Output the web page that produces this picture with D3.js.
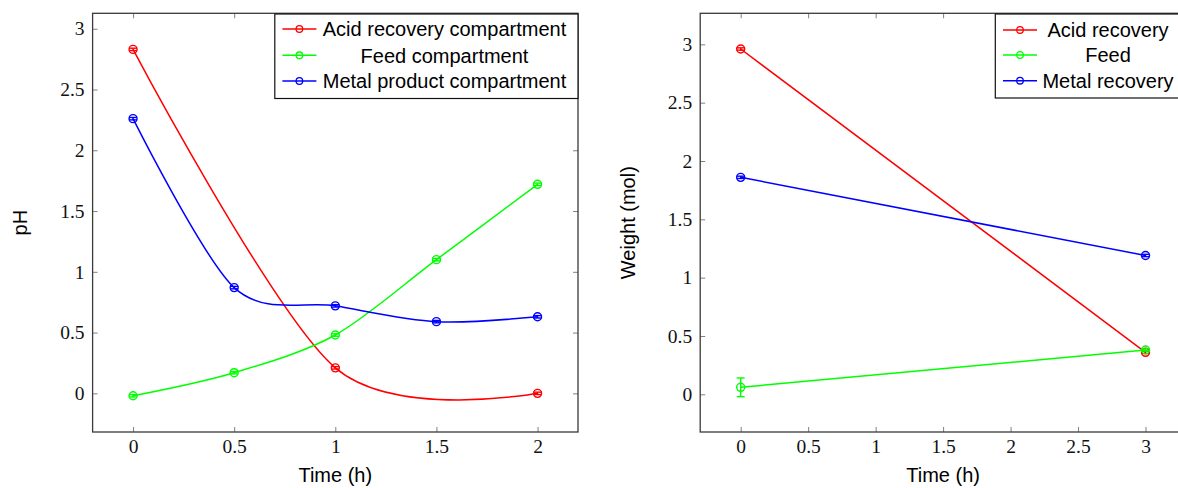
<!DOCTYPE html>
<html>
<head>
<meta charset="utf-8">
<script src="https://cdn.jsdelivr.net/npm/d3@7"></script>
<style>
  body { margin: 0; background: #fff; }
  svg { display: block; }
</style>
</head>
<body>
<svg id="chart" width="1178" height="488"></svg>
<script>
// ---- pH of each compartment during the run ----
const phTime = [0, 0.5, 1, 1.5, 2];
const phAcidTime = [0, 1, 2];
const phAcid = [2.83, 0.21, 0.0];
const phAcidErr = [0.01, 0.01, 0.01];
const phFeed = [-0.02, 0.17, 0.48, 1.10, 1.72];
const phFeedErr = [0.01, 0.01, 0.01, 0.01, 0.01];
const phMetal = [2.26, 0.87, 0.72, 0.59, 0.63];
const phMetalErr = [0.01, 0.01, 0.01, 0.01, 0.01];
const phNames = ["Acid recovery compartment", "Feed compartment", "Metal product compartment"];
const phXTicks = [0, 0.5, 1, 1.5, 2];
const phXTickLabels = ["0", "0.5", "1", "1.5", "2"];
const phYTicks = [0, 0.5, 1, 1.5, 2, 2.5, 3];
const phYTickLabels = ["0", "0.5", "1", "1.5", "2", "2.5", "3"];

// ---- amount in each compartment, start vs end ----
const wTime = [0, 3];
const wAcid = [2.96, 0.36];
const wAcidErr = [0.01, 0.01];
const wFeed = [0.06, 0.38];
const wFeedErr = [0.08, 0.01];
const wMetal = [1.86, 1.19];
const wMetalErr = [0.01, 0.01];
const wNames = ["Acid recovery", "Feed", "Metal recovery"];
const wXTicks = [0, 0.5, 1, 1.5, 2, 2.5, 3];
const wXTickLabels = ["0", "0.5", "1", "1.5", "2", "2.5", "3"];
const wYTicks = [0, 0.5, 1, 1.5, 2, 2.5, 3];
const wYTickLabels = ["0", "0.5", "1", "1.5", "2", "2.5", "3"];

const seriesColors = ["#ff0000", "#00ff00", "#0000ff"];

const svg = d3.select("#chart");
const sansFont = "'Liberation Sans', Arial, sans-serif";
const serifFont = "'Liberation Serif', 'Times New Roman', serif";

function drawPanel(cfg) {
  const x = d3.scaleLinear().domain(cfg.xDomain).range([cfg.left, cfg.right]);
  const y = d3.scaleLinear().domain(cfg.yDomain).range([cfg.bottom, cfg.top]);
  const g = svg.append("g");
  const tickLen = 5;

  // bottom axis with labels, ticks pointing inward
  const bx = g.append("g").attr("transform", `translate(0,${cfg.bottom})`)
    .call(d3.axisBottom(x).tickValues(cfg.xTicks)
      .tickFormat((d, i) => cfg.xTickLabels[i]).tickSize(-tickLen).tickPadding(7));
  // top axis, ticks only
  const tx = g.append("g").attr("transform", `translate(0,${cfg.top})`)
    .call(d3.axisTop(x).tickValues(cfg.xTicks).tickFormat("").tickSize(-tickLen));
  // left axis with labels
  const ly = g.append("g").attr("transform", `translate(${cfg.left},0)`)
    .call(d3.axisLeft(y).tickValues(cfg.yTicks)
      .tickFormat((d, i) => cfg.yTickLabels[i]).tickSize(-tickLen).tickPadding(8));
  // right axis, ticks only
  const ry = g.append("g").attr("transform", `translate(${cfg.right},0)`)
    .call(d3.axisRight(y).tickValues(cfg.yTicks).tickFormat("").tickSize(-tickLen));

  [bx, tx, ly, ry].forEach(a => {
    a.select(".domain").remove();
    a.selectAll(".tick line").attr("stroke", "#808080").attr("stroke-width", 1);
    a.selectAll(".tick text").attr("font-family", serifFont).attr("font-size", 19.5).attr("fill", "#111");
  });

  // frame
  g.append("rect")
    .attr("x", cfg.left).attr("y", cfg.top)
    .attr("width", cfg.right - cfg.left).attr("height", cfg.bottom - cfg.top)
    .attr("fill", "none").attr("stroke", "#3a3a3a").attr("stroke-width", 1.3);

  // series
  cfg.series.forEach((s, si) => {
    const pts = s.xs.map((t, i) => ({ t, v: s.ys[i], e: s.errs[i] }));
    const line = d3.line().x(d => x(d.t)).y(d => y(d.v));
    if (cfg.smooth) line.curve(d3.curveCardinal.tension(0.1));
    g.append("path").datum(pts)
      .attr("d", line)
      .attr("fill", "none").attr("stroke", seriesColors[si]).attr("stroke-width", 1.5);

    const mk = g.append("g").attr("stroke", seriesColors[si]).attr("stroke-width", 1.4).attr("fill", "none");
    pts.forEach(d => {
      const cx = x(d.t), y1 = y(d.v - d.e), y2 = y(d.v + d.e);
      mk.append("line").attr("x1", cx).attr("x2", cx).attr("y1", y1).attr("y2", y2);
      mk.append("line").attr("x1", cx - 4).attr("x2", cx + 4).attr("y1", y1).attr("y2", y1);
      mk.append("line").attr("x1", cx - 4).attr("x2", cx + 4).attr("y1", y2).attr("y2", y2);
      mk.append("circle").attr("cx", cx).attr("cy", y(d.v)).attr("r", 4);
    });
  });

  // legend
  const lg = g.append("g");
  lg.append("rect")
    .attr("x", cfg.legend.x0).attr("y", cfg.top + 0.7)
    .attr("width", cfg.legend.x1 - cfg.legend.x0).attr("height", cfg.legend.h)
    .attr("fill", "#fff").attr("stroke", "#111").attr("stroke-width", 1.2);
  cfg.series.forEach((s, si) => {
    const cy = cfg.legend.rows[si];
    lg.append("line")
      .attr("x1", cfg.legend.lineX0).attr("x2", cfg.legend.lineX0 + 34)
      .attr("y1", cy).attr("y2", cy)
      .attr("stroke", seriesColors[si]).attr("stroke-width", 1.5);
    lg.append("circle")
      .attr("cx", cfg.legend.lineX0 + 17).attr("cy", cy).attr("r", 3.3)
      .attr("fill", "none").attr("stroke", seriesColors[si]).attr("stroke-width", 1.3);
    lg.append("text")
      .attr("x", cfg.legend.textX).attr("y", cy).attr("dy", "0.36em")
      .attr("text-anchor", "middle")
      .attr("font-family", sansFont).attr("font-size", 20).attr("fill", "#000")
      .text(s.name);
  });

  // axis titles
  g.append("text")
    .attr("x", x(cfg.xTitlePos)).attr("y", 482)
    .attr("text-anchor", "middle")
    .attr("font-family", sansFont).attr("font-size", 20).attr("fill", "#000")
    .text(cfg.xTitle);
  g.append("text")
    .attr("transform", `translate(${cfg.yTitleX},${(cfg.top + cfg.bottom) / 2}) rotate(-90)`)
    .attr("text-anchor", "middle")
    .attr("font-family", sansFont).attr("font-size", 20).attr("fill", "#000")
    .text(cfg.yTitle);
}

drawPanel({
  left: 92.6, right: 578, top: 13.3, bottom: 432,
  xDomain: [-0.2, 2.2], yDomain: [-0.318, 3.127],
  xTicks: phXTicks, xTickLabels: phXTickLabels,
  yTicks: phYTicks, yTickLabels: phYTickLabels,
  smooth: true,
  xTitle: "Time (h)", xTitlePos: 1,
  yTitle: "pH", yTitleX: 27,
  series: [
    { name: phNames[0], xs: phAcidTime, ys: phAcid, errs: phAcidErr },
    { name: phNames[1], xs: phTime, ys: phFeed, errs: phFeedErr },
    { name: phNames[2], xs: phTime, ys: phMetal, errs: phMetalErr }
  ],
  legend: { x0: 274.8, x1: 578, h: 84.5, rows: [29, 55.3, 81], lineX0: 282.4, textX: 444.5 }
});

drawPanel({
  left: 700.2, right: 1186, top: 13.3, bottom: 432,
  xDomain: [-0.3, 3.3], yDomain: [-0.323, 3.266],
  xTicks: wXTicks, xTickLabels: wXTickLabels,
  yTicks: wYTicks, yTickLabels: wYTickLabels,
  smooth: false,
  xTitle: "Time (h)", xTitlePos: 1.5,
  yTitle: "Weight (mol)", yTitleX: 635,
  series: [
    { name: wNames[0], xs: wTime, ys: wAcid, errs: wAcidErr },
    { name: wNames[1], xs: wTime, ys: wFeed, errs: wFeedErr },
    { name: wNames[2], xs: wTime, ys: wMetal, errs: wMetalErr }
  ],
  legend: { x0: 995.3, x1: 1186, h: 84, rows: [30, 55, 80.7], lineX0: 1003, textX: 1108 }
});
</script>
</body>
</html>
